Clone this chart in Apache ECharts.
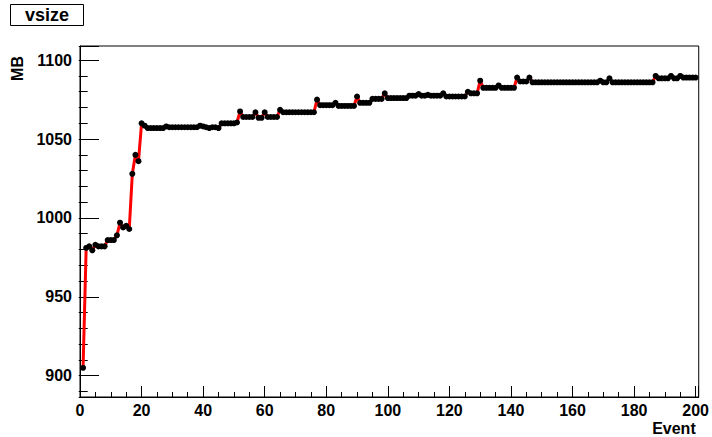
<!DOCTYPE html>
<html><head><meta charset="utf-8">
<script src="https://cdn.jsdelivr.net/npm/echarts@6/dist/echarts.min.js"></script>
<style>html,body{margin:0;padding:0;background:#fff}#c{width:712px;height:437px}</style>
</head><body><div id="c"></div>
<script>
const titleText = 'vsize';
const xName = 'Event';
const yName = 'MB';
const xTickValues = [0, 20, 40, 60, 80, 100, 120, 140, 160, 180, 200];
const yTickValues = [900, 950, 1000, 1050, 1100];
// vsize (MB) per event, events 1..200
const vsize = [
  905, 981, 982, 979.5, 983, 982, 982, 982, 986, 986,
  986, 989, 997, 994, 995, 993, 1028, 1040, 1036, 1060,
  1058.5, 1057, 1057, 1057, 1057, 1057, 1057, 1058, 1057.5, 1057.5,
  1057.5, 1057.5, 1057.5, 1057.5, 1057.5, 1057.5, 1057.5, 1057.5, 1058.5, 1058,
  1057.5, 1057, 1057.5, 1057.5, 1057, 1060, 1060, 1060, 1060, 1060,
  1060.5, 1067.5, 1064, 1064, 1064, 1064, 1067, 1063.5, 1063.5, 1067,
  1064, 1064, 1064, 1064, 1068.5, 1067, 1067, 1067, 1067, 1067,
  1067, 1067, 1067, 1067, 1067, 1067, 1075, 1071.5, 1071.5, 1071.5,
  1071.5, 1071.5, 1073, 1071, 1071, 1071, 1071, 1071, 1071, 1077,
  1073, 1073, 1073, 1073, 1075.5, 1075.5, 1075.5, 1075.5, 1079, 1076,
  1076, 1076, 1076, 1076, 1076, 1076, 1077.5, 1077.5, 1077.5, 1078.5,
  1077.5, 1077.5, 1078, 1077.5, 1077.5, 1077.5, 1077.5, 1079, 1077, 1077,
  1077, 1077, 1077, 1077, 1077, 1080, 1079, 1079, 1079, 1087,
  1082.5, 1082.5, 1082.5, 1082.5, 1082.5, 1084, 1082.5, 1082.5, 1082.5, 1082.5,
  1082.5, 1089, 1086.5, 1086.5, 1086.5, 1089, 1086, 1086, 1086, 1086,
  1086, 1086, 1086, 1086, 1086, 1086, 1086, 1086, 1086, 1086,
  1086, 1086, 1086, 1086, 1086, 1086, 1086, 1086, 1087, 1086,
  1086, 1088.5, 1086, 1086, 1086, 1086, 1086, 1086, 1086, 1086,
  1086, 1086, 1086, 1086, 1086, 1086, 1090, 1088.5, 1088.5, 1088.5,
  1088.5, 1090, 1088.5, 1088.5, 1090, 1089, 1089, 1089, 1089, 1089
];
const events = vsize.map((v, i) => i + 1);

const FONT = '"Liberation Sans", Arial, Helvetica, sans-serif';
const chart = echarts.init(document.getElementById('c'), null, {renderer: 'svg'});
const txt = {fontFamily: FONT, fontWeight: 'bold', fontSize: 16, color: '#000'};
chart.setOption({
  animation: false,
  backgroundColor: '#fff',
  title: {
    text: titleText, left: 10, top: 4, padding: [2, 15, 2, 15],
    borderColor: '#000', borderWidth: 1,
    textStyle: {fontFamily: FONT, fontWeight: 'bold', fontSize: 18, color: '#000', lineHeight: 18}
  },
  grid: {left: 80, right: 12, top: 46, bottom: 40, show: true, borderColor: '#000', borderWidth: 1, backgroundColor: 'transparent'},
  xAxis: [
    {
      type: 'value', min: 0, max: 201, splitNumber: 10,
      name: xName, nameLocation: 'end', nameGap: -3,
      nameTextStyle: Object.assign({}, txt, {align: 'right', verticalAlign: 'top', padding: [23, 0, 0, 0]}),
      axisLine: {show: true, onZero: false, lineStyle: {color: '#000', width: 1}},
      axisTick: {show: true, inside: true, length: 11, lineStyle: {color: '#000', width: 1}},
      axisLabel: Object.assign({}, txt, {margin: 5, formatter: v => xTickValues.includes(v) ? String(v) : ''}),
      splitLine: {show: false}
    },
    {
      type: 'value', min: 0, max: 201, splitNumber: 40, position: 'top', offset: -351,
      axisLine: {show: false, onZero: false},
      axisTick: {show: true, inside: false, length: 5, lineStyle: {color: '#000', width: 1}},
      axisLabel: {show: false}, splitLine: {show: false}
    }
  ],
  yAxis: [
    {
      type: 'value', min: 886.5, max: 1109, splitNumber: 4,
      name: yName, nameLocation: 'end', nameRotate: 90, nameGap: -10,
      nameTextStyle: Object.assign({}, txt, {align: 'right', verticalAlign: 'bottom', padding: [0, 0, 55, 0]}),
      axisLine: {show: true, onZero: false, lineStyle: {color: '#000', width: 1}},
      axisTick: {show: true, inside: true, length: 19, lineStyle: {color: '#000', width: 1}},
      axisLabel: Object.assign({}, txt, {margin: 8, formatter: v => yTickValues.includes(v) ? String(v) : ''}),
      splitLine: {show: false}
    },
    {
      type: 'value', min: 886.5, max: 1109, splitNumber: 22, position: 'right', offset: -620,
      axisLine: {show: false, onZero: false},
      axisTick: {show: true, inside: false, length: 9, lineStyle: {color: '#000', width: 1}},
      axisLabel: {show: false}, splitLine: {show: false}
    }
  ],
  series: [{
    type: 'line', xAxisIndex: 0, yAxisIndex: 0,
    data: events.map((e, i) => [e, vsize[i]]),
    symbol: 'circle', symbolSize: 6,
    itemStyle: {color: '#000', borderWidth: 0},
    lineStyle: {color: '#ff0000', width: 3},
    emphasis: {disabled: true},
    z: 3
  }]
});
</script>
</body></html>
